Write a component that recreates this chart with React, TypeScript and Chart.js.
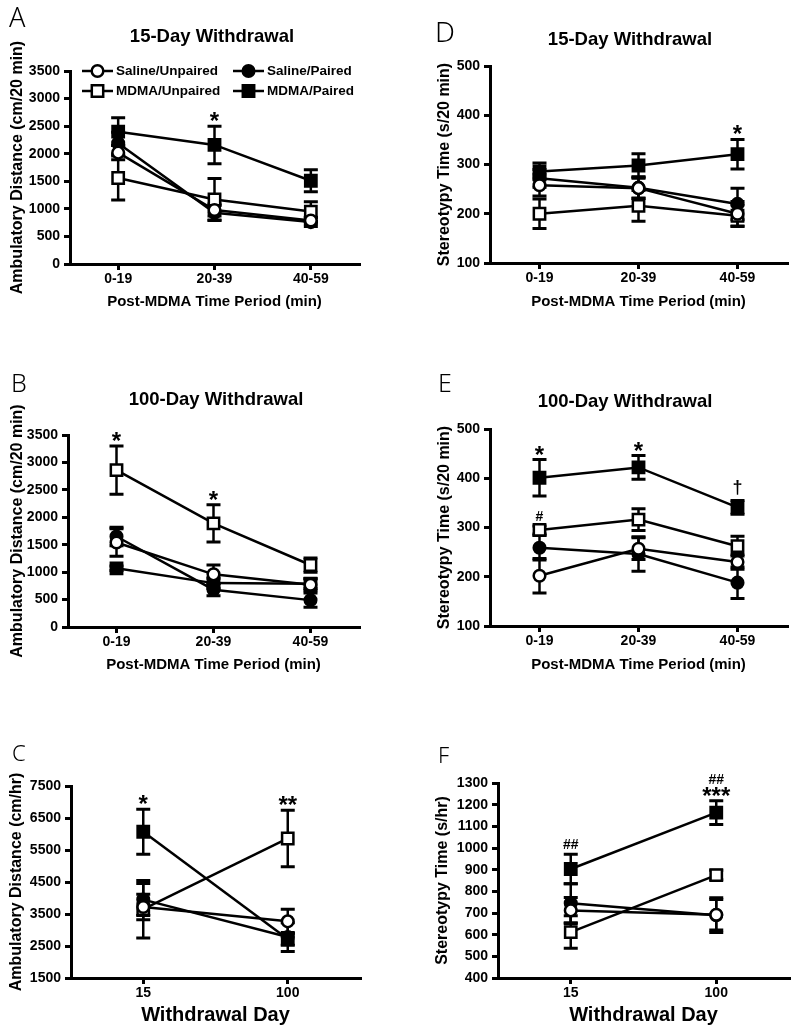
import React, { useEffect, useRef } from 'react';
import { Chart, registerables } from 'chart.js';

Chart.register(...registerables);

const FONT = '"Liberation Sans", Arial, Helvetica, sans-serif';
const LETTER_FONT = '"Noto Sans", "Open Sans", sans-serif';

// ---------------- categories, names, ticks ----------------
const timePeriods = ['0-19', '20-39', '40-59'];
const withdrawalDays = ['15', '100'];
const seriesNames = ['Saline/Unpaired', 'Saline/Paired', 'MDMA/Unpaired', 'MDMA/Paired'];

const ambTicks20 = [0, 500, 1000, 1500, 2000, 2500, 3000, 3500];
const stereoTicks20 = [100, 200, 300, 400, 500];
const ambTicksHr = [1500, 2500, 3500, 4500, 5500, 6500, 7500];
const stereoTicksHr = [400, 500, 600, 700, 800, 900, 1000, 1100, 1200, 1300];

// ---------------- Panel A: 15-day ambulatory (cm/20 min) ----------------
const salUnpA = [2020, 980, 790];
const salUnpAErr = [130, 110, 60];
const salPairA = [2190, 930, 760];
const salPairAErr = [200, 130, 80];
const mdmaUnpA = [1560, 1170, 950];
const mdmaUnpAErr = [400, 380, 180];
const mdmaPairA = [2400, 2160, 1510];
const mdmaPairAErr = [250, 340, 200];
const notesA = [{ series: 3, labels: ['', '*', ''] }];

// ---------------- Panel D: 15-day stereotypy (s/20 min) ----------------
const salUnpD = [258, 252, 200];
const salUnpDErr = [22, 20, 25];
const salPairD = [272, 253, 220];
const salPairDErr = [18, 22, 32];
const mdmaUnpD = [200, 216, 196];
const mdmaUnpDErr = [30, 31, 22];
const mdmaPairD = [286, 298, 321];
const mdmaPairDErr = [17, 24, 30];
const notesD = [{ series: 3, labels: ['', '', '*'] }];

// ---------------- Panel B: 100-day ambulatory ----------------
const salUnpB = [1540, 960, 770];
const salUnpBErr = [250, 170, 110];
const salPairB = [1650, 680, 490];
const salPairBErr = [170, 110, 130];
const mdmaUnpB = [2860, 1890, 1130];
const mdmaUnpBErr = [440, 340, 130];
const mdmaPairB = [1070, 800, 790];
const mdmaPairBErr = [40, 90, 90];
const notesB = [{ series: 2, labels: ['*', '*', ''] }];

// ---------------- Panel E: 100-day stereotypy ----------------
const salUnpE = [202, 257, 230];
const salUnpEErr = [35, 22, 15];
const salPairE = [259, 246, 188];
const salPairEErr = [25, 35, 32];
const mdmaUnpE = [295, 316, 262];
const mdmaUnpEErr = [8, 22, 20];
const mdmaPairE = [401, 422, 341];
const mdmaPairEErr = [37, 24, 14];
const notesE = [
  { series: 3, labels: ['*', '*', '\u2020'] },
  { series: 2, labels: ['#', '', ''] },
];

// ---------------- Panel C: ambulatory (cm/hr) by withdrawal day ----------------
const salUnpC = [3720, 3270];
const salUnpCErr = [400, 380];
const salPairC = [3950, 2780];
const salPairCErr = [500, 450];
const mdmaUnpC = [3650, 5860];
const mdmaUnpCErr = [900, 880];
const mdmaPairC = [6070, 2720];
const mdmaPairCErr = [700, 200];
const notesC = [
  { series: 3, labels: ['*', ''] },
  { series: 2, labels: ['', '**'] },
];

// ---------------- Panel F: stereotypy (s/hr) by withdrawal day ----------------
const salUnpF = [712, 692];
const salUnpFErr = [60, 70];
const salPairF = [745, 690];
const salPairFErr = [90, 80];
const mdmaUnpF = [612, 875];
const mdmaUnpFErr = [75, 22];
const mdmaPairF = [903, 1163];
const mdmaPairFErr = [68, 55];
const notesF = [{ series: 3, labels: ['##', '##\n***'] }];

// ---------------- styles (not data) ----------------
const seriesFilled = [false, true, false, true];
const seriesShape = ['circle', 'circle', 'rect', 'rect'];

type Note = { series: number; labels: string[] };
type PanelSpec = {
  key: string;
  left: number; top: number; width: number; height: number;
  plot: { L: number; R: number; T: number; B: number };
  labels: string[];
  values: number[][];
  errors: number[][];
  yTicks: number[];
  yTitle: string;
  xTitle: string;
  xTitleSize: number;
  yTitlePad: number;
  title?: { text: string; x: number; y: number };
  letter: { text: string; x: number; y: number; size: number };
  notes: Note[];
  legend?: boolean;
};

const panels: PanelSpec[] = [
  {
    key: 'A', left: 0, top: 0, width: 390, height: 311,
    plot: { L: 70, R: 359, T: 71, B: 264 },
    labels: timePeriods,
    values: [salUnpA, salPairA, mdmaUnpA, mdmaPairA],
    errors: [salUnpAErr, salPairAErr, mdmaUnpAErr, mdmaPairAErr],
    yTicks: ambTicks20, yTitle: 'Ambulatory Distance (cm/20 min)',
    xTitle: 'Post-MDMA Time Period (min)', xTitleSize: 15, yTitlePad: 8,
    title: { text: '15-Day Withdrawal', x: 212, y: 37 },
    letter: { text: 'A', x: 9, y: 27, size: 27 },
    notes: notesA, legend: true,
  },
  {
    key: 'D', left: 425, top: 0, width: 375, height: 311,
    plot: { L: 490, R: 787, T: 66, B: 263 },
    labels: timePeriods,
    values: [salUnpD, salPairD, mdmaUnpD, mdmaPairD],
    errors: [salUnpDErr, salPairDErr, mdmaUnpDErr, mdmaPairDErr],
    yTicks: stereoTicks20, yTitle: 'Stereotypy Time (s/20 min)',
    xTitle: 'Post-MDMA Time Period (min)', xTitleSize: 15, yTitlePad: 10,
    title: { text: '15-Day Withdrawal', x: 630, y: 40 },
    letter: { text: 'D', x: 435, y: 42, size: 28 },
    notes: notesD,
  },
  {
    key: 'B', left: 0, top: 330, width: 390, height: 344,
    plot: { L: 68, R: 359, T: 435, B: 627 },
    labels: timePeriods,
    values: [salUnpB, salPairB, mdmaUnpB, mdmaPairB],
    errors: [salUnpBErr, salPairBErr, mdmaUnpBErr, mdmaPairBErr],
    yTicks: ambTicks20, yTitle: 'Ambulatory Distance (cm/20 min)',
    xTitle: 'Post-MDMA Time Period (min)', xTitleSize: 15, yTitlePad: 8,
    title: { text: '100-Day Withdrawal', x: 216, y: 400 },
    letter: { text: 'B', x: 11, y: 392, size: 25 },
    notes: notesB,
  },
  {
    key: 'E', left: 425, top: 330, width: 375, height: 344,
    plot: { L: 490, R: 787, T: 429, B: 626 },
    labels: timePeriods,
    values: [salUnpE, salPairE, mdmaUnpE, mdmaPairE],
    errors: [salUnpEErr, salPairEErr, mdmaUnpEErr, mdmaPairEErr],
    yTicks: stereoTicks20, yTitle: 'Stereotypy Time (s/20 min)',
    xTitle: 'Post-MDMA Time Period (min)', xTitleSize: 15, yTitlePad: 10,
    title: { text: '100-Day Withdrawal', x: 625, y: 402 },
    letter: { text: 'E', x: 438, y: 392, size: 25 },
    notes: notesE,
  },
  {
    key: 'C', left: 0, top: 700, width: 390, height: 327,
    plot: { L: 71, R: 360, T: 786, B: 978 },
    labels: withdrawalDays,
    values: [salUnpC, salPairC, mdmaUnpC, mdmaPairC],
    errors: [salUnpCErr, salPairCErr, mdmaUnpCErr, mdmaPairCErr],
    yTicks: ambTicksHr, yTitle: 'Ambulatory Distance (cm/hr)',
    xTitle: 'Withdrawal Day', xTitleSize: 20, yTitlePad: 7,
    letter: { text: 'C', x: 12, y: 761, size: 22 },
    notes: notesC,
  },
  {
    key: 'F', left: 425, top: 700, width: 375, height: 327,
    plot: { L: 498, R: 789, T: 783, B: 978 },
    labels: withdrawalDays,
    values: [salUnpF, salPairF, mdmaUnpF, mdmaPairF],
    errors: [salUnpFErr, salPairFErr, mdmaUnpFErr, mdmaPairFErr],
    yTicks: stereoTicksHr, yTitle: 'Stereotypy Time (s/hr)',
    xTitle: 'Withdrawal Day', xTitleSize: 20, yTitlePad: 8,
    letter: { text: 'F', x: 438, y: 763, size: 22 },
    notes: notesF,
  },
];

// ---------------- plugins ----------------
const errorBarsPlugin = {
  id: 'errorBars',
  beforeDatasetsDraw(chart: any) {
    const ctx = chart.ctx;
    const xs = chart.scales.x;
    const ys = chart.scales.y;
    ctx.save();
    ctx.strokeStyle = '#000';
    chart.data.datasets.forEach((ds: any) => {
      ds.data.forEach((v: number, i: number) => {
        const e = ds.errors ? ds.errors[i] : 0;
        if (!e) return;
        const px = xs.getPixelForValue(i);
        const top = ys.getPixelForValue(v + e);
        const bot = ys.getPixelForValue(v - e);
        ctx.lineWidth = 2.5;
        ctx.beginPath();
        ctx.moveTo(px, top);
        ctx.lineTo(px, bot);
        ctx.stroke();
        ctx.lineWidth = 3;
        ctx.beginPath();
        ctx.moveTo(px - 7, top);
        ctx.lineTo(px + 7, top);
        ctx.moveTo(px - 7, bot);
        ctx.lineTo(px + 7, bot);
        ctx.stroke();
      });
    });
    ctx.restore();
  },
};

function noteFont(t: string) {
  if (t.indexOf('*') >= 0) return `bold 24px ${FONT}`;
  if (t.indexOf('\u2020') >= 0) return `bold 18px ${FONT}`;
  return `bold 14px ${FONT}`;
}

function makeNotesPlugin(notes: Note[]) {
  return {
    id: 'sigNotes',
    afterDatasetsDraw(chart: any) {
      const ctx = chart.ctx;
      const xs = chart.scales.x;
      const ys = chart.scales.y;
      ctx.save();
      ctx.fillStyle = '#000';
      ctx.textAlign = 'center';
      ctx.textBaseline = 'alphabetic';
      notes.forEach((n) => {
        const ds: any = chart.data.datasets[n.series];
        n.labels.forEach((lab, i) => {
          if (!lab) return;
          const v = ds.data[i];
          const e = ds.errors ? ds.errors[i] : 0;
          const px = xs.getPixelForValue(i);
          let bottom = ys.getPixelForValue(v + e) - 5;
          const lines = lab.split('\n').reverse();
          lines.forEach((line) => {
            ctx.font = noteFont(line);
            const m = ctx.measureText(line);
            const desc = m.actualBoundingBoxDescent || 0;
            const asc = m.actualBoundingBoxAscent || 10;
            ctx.fillText(line, px, bottom - desc);
            bottom = bottom - desc - asc - 3;
          });
        });
      });
      ctx.restore();
    },
  };
}

function makeDecorPlugin(spec: PanelSpec) {
  return {
    id: 'decor',
    afterDraw(chart: any) {
      const ctx = chart.ctx;
      ctx.save();
      ctx.fillStyle = '#000';
      if (spec.title) {
        ctx.font = `bold 18.5px ${FONT}`;
        ctx.textAlign = 'center';
        ctx.textBaseline = 'middle';
        ctx.fillText(spec.title.text, spec.title.x - spec.left, spec.title.y - spec.top);
      }
      ctx.font = `300 ${spec.letter.size}px ${LETTER_FONT}`;
      ctx.textAlign = 'left';
      ctx.textBaseline = 'alphabetic';
      ctx.fillText(spec.letter.text, spec.letter.x - spec.left, spec.letter.y - spec.top);
      ctx.restore();
    },
  };
}

const legendPlugin = {
  id: 'cornerLegend',
  afterDraw(chart: any) {
    const ctx = chart.ctx;
    const a = chart.chartArea;
    const cols = [a.left + 12, a.left + 163];
    const rows = [a.top, a.top + 20];
    ctx.save();
    ctx.font = `bold 13.5px ${FONT}`;
    ctx.textBaseline = 'middle';
    ctx.textAlign = 'left';
    seriesNames.forEach((name, i) => {
      const x0 = cols[i % 2];
      const y = rows[Math.floor(i / 2)];
      ctx.strokeStyle = '#000';
      ctx.lineWidth = 2.5;
      ctx.beginPath();
      ctx.moveTo(x0, y);
      ctx.lineTo(x0 + 31, y);
      ctx.stroke();
      const cx = x0 + 15.5;
      ctx.fillStyle = seriesFilled[i] ? '#000' : '#fff';
      ctx.beginPath();
      if (seriesShape[i] === 'circle') {
        ctx.arc(cx, y, 5.8, 0, Math.PI * 2);
      } else {
        ctx.rect(cx - 5.7, y - 5.7, 11.4, 11.4);
      }
      ctx.fill();
      ctx.stroke();
      ctx.fillStyle = '#000';
      ctx.fillText(name, x0 + 34, y + 0.5);
    });
    ctx.restore();
  },
};

function buildConfig(spec: PanelSpec): any {
  const padTop = spec.plot.T - spec.top;
  const padRight = spec.left + spec.width - spec.plot.R;
  const yWidth = spec.plot.L - spec.left;
  const xHeight = spec.top + spec.height - spec.plot.B;
  const yMin = spec.yTicks[0];
  const yMax = spec.yTicks[spec.yTicks.length - 1];

  const datasets = spec.values.map((vals, i) => ({
    label: seriesNames[i],
    data: vals,
    errors: spec.errors[i],
    borderColor: '#000',
    borderWidth: 2.5,
    backgroundColor: seriesFilled[i] ? '#000' : '#fff',
    pointStyle: seriesShape[i],
    pointRadius: seriesShape[i] === 'circle' ? 5.8 : 8,
    pointBorderWidth: 2.5,
    pointBackgroundColor: seriesFilled[i] ? '#000' : '#fff',
    pointBorderColor: '#000',
    tension: 0,
    fill: false,
    clip: false,
  }));

  const plugins: any[] = [errorBarsPlugin, makeNotesPlugin(spec.notes), makeDecorPlugin(spec)];
  if (spec.legend) plugins.push(legendPlugin);

  return {
    type: 'line',
    data: { labels: spec.labels, datasets },
    options: {
      responsive: false,
      maintainAspectRatio: false,
      animation: false,
      devicePixelRatio: 1,
      layout: { padding: { top: padTop, right: padRight, left: 0, bottom: 0 } },
      plugins: {
        legend: { display: false },
        tooltip: { enabled: false },
        title: { display: false },
      },
      scales: {
        x: {
          type: 'category',
          offset: true,
          grid: {
            display: true,
            drawOnChartArea: false,
            drawTicks: true,
            tickLength: 6,
            lineWidth: 3,
            color: '#000',
            offset: false,
          },
          border: { display: true, width: 3, color: '#000' },
          ticks: {
            color: '#000',
            font: { family: FONT, size: 14, weight: 'bold' },
            padding: 1,
            maxRotation: 0,
            autoSkip: false,
          },
          title: {
            display: true,
            text: spec.xTitle,
            color: '#000',
            font: { family: FONT, size: spec.xTitleSize, weight: 'bold', lineHeight: 1.2 },
            padding: { top: 0, bottom: 0 },
          },
          afterFit: (s: any) => {
            s.height = xHeight;
          },
        },
        y: {
          type: 'linear',
          min: yMin,
          max: yMax,
          grid: {
            display: true,
            drawOnChartArea: false,
            drawTicks: true,
            tickLength: 6,
            lineWidth: 3,
            color: '#000',
          },
          border: { display: true, width: 3, color: '#000' },
          ticks: {
            color: '#000',
            font: { family: FONT, size: 14, weight: 'bold' },
            padding: 4,
            callback: (v: any) => String(v),
          },
          afterBuildTicks: (s: any) => {
            s.ticks = spec.yTicks.map((v) => ({ value: v }));
          },
          title: {
            display: true,
            text: spec.yTitle,
            color: '#000',
            font: { family: FONT, size: 16, weight: 'bold', lineHeight: 1.2 },
            padding: { top: spec.yTitlePad, bottom: 0 },
          },
          afterFit: (s: any) => {
            s.width = yWidth;
          },
        },
      },
    },
    plugins,
  };
}

function Panel({ spec }: { spec: PanelSpec }) {
  const ref = useRef<HTMLCanvasElement>(null);
  useEffect(() => {
    if (!ref.current) return;
    const chart = new Chart(ref.current, buildConfig(spec));
    return () => chart.destroy();
  }, [spec]);
  return (
    <canvas
      ref={ref}
      width={spec.width}
      height={spec.height}
      style={{
        position: 'absolute',
        left: spec.left,
        top: spec.top,
        width: spec.width,
        height: spec.height,
      }}
    />
  );
}

export default function App() {
  return (
    <div
      style={{
        position: 'absolute',
        left: 0,
        top: 0,
        width: 800,
        height: 1035,
        background: '#fff',
        overflow: 'hidden',
      }}
    >
      {panels.map((p) => (
        <Panel key={p.key} spec={p} />
      ))}
    </div>
  );
}
